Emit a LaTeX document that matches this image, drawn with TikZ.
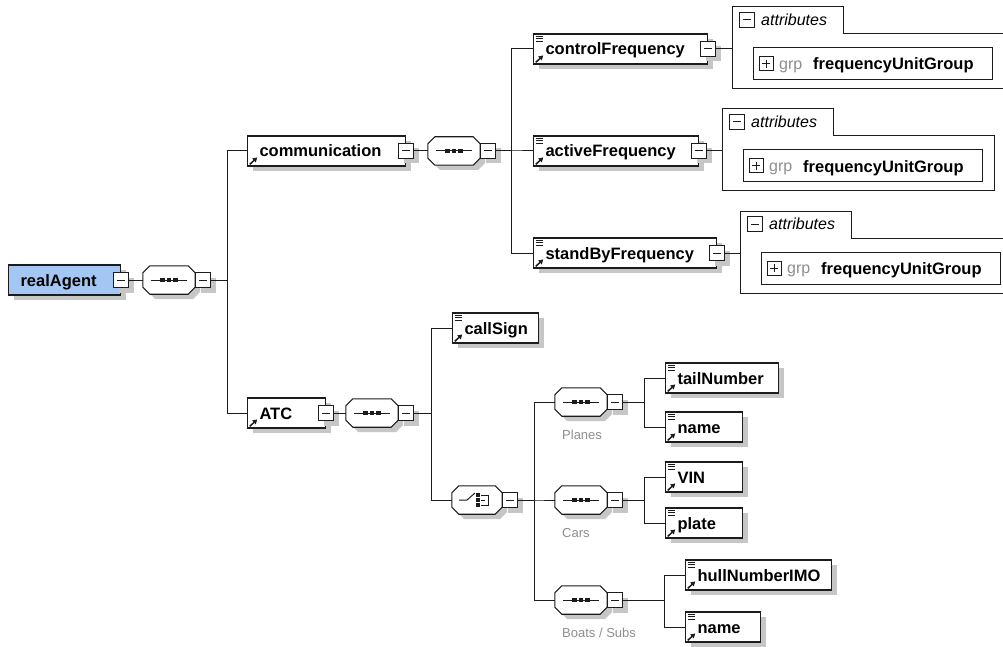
\documentclass[tikz,border=0pt]{standalone}
\usepackage{fontspec}
\setmainfont{Liberation Sans}
\usepackage{tikz}
\usetikzlibrary{arrows.meta,positioning,calc,shadows}
\definecolor{xsblue}{HTML}{A3C6F2}
\definecolor{xsline}{HTML}{1C1C1C}
\definecolor{xsshade}{HTML}{C6C6C6}
\definecolor{xsgrey}{HTML}{8E8E8E}
\newcommand{\xsfont}{\fontsize{16.5}{18}\selectfont\bfseries}
\newcommand{\xsarrow}{\draw[line width=1.5pt, -{Triangle[length=4.5pt,width=5pt]}]
  ([shift={(2.2pt,1.6pt)}]path picture bounding box.south west) -- ++(7.5pt,7pt);}
\newcommand{\xsbars}{\foreach \k in {2.3,4.8,7.3}
  \draw[line width=1.1pt] ([shift={(2.3pt,-\k pt)}]path picture bounding box.north west) -- ++(7pt,0pt);}
% octagon of a compositor node
\newcommand{\xsoct}[1]{%
  \filldraw[fill=white, draw=xsline, line width=1.1pt] ([xshift=7pt]#1.north west) -- ([xshift=-7pt]#1.north east)
  -- ([yshift=-7pt]#1.north east) -- ([yshift=7pt]#1.south east) -- ([xshift=-7pt]#1.south east)
  -- ([xshift=7pt]#1.south west) -- ([yshift=7pt]#1.south west) -- ([yshift=-7pt]#1.north west) -- cycle;}
\newcommand{\xsdots}[1]{%
  \draw[xsline, line width=1pt] ([xshift=-18pt]#1.center) -- ([xshift=18pt]#1.center);
  \foreach \k in {-6.5,0,6.5}
    \fill[xsline] ([xshift=\k pt]#1.center) ++(-2.4pt,-2.4pt) rectangle ++(4.8pt,4.8pt);}
\newcommand{\xsswitch}[1]{%
  \draw[xsline, line width=1pt] ([xshift=-18pt]#1.center) -- ++(8pt,0pt) -- ++(8pt,7pt);
  \foreach \k in {-5,0,5}
    \fill[xsline] ([shift={(-1pt,\k pt)}]#1.center) ++(0pt,-1.8pt) rectangle ++(3.6pt,3.6pt);
  \draw[xsline, line width=1pt] ([shift={(4pt,5pt)}]#1.center) -- ++(7pt,0pt) -- ++(0pt,-10pt) -- ++(-7pt,0pt)
    ([shift={(4pt,0pt)}]#1.center) -- ++(4pt,0pt);}
\tikzset{
  xsshadow/.style={drop shadow={shadow xshift=5pt, shadow yshift=-5pt, opacity=1, fill=xsshade}},
  xselem/.style={draw=xsline, fill=white, line width=1.1pt, anchor=west, minimum height=30pt,
    inner xsep=12pt, inner ysep=0pt, text width=#1, align=left, text height=12pt, text depth=0pt,
    font=\xsfont, xsshadow},
  xsroot/.style={xselem=#1, fill=xsblue},
  xsref/.style={path picture={\xsarrow}},
  xslist/.style={path picture={\xsarrow\xsbars}},
  xstoggle/.style={draw=xsline, fill=white, line width=1pt, minimum size=15pt, inner sep=0pt},
  xsminus/.style={xstoggle, xsshadow, path picture={\draw[line width=1pt]
    ([xshift=-4pt]path picture bounding box.center) -- ([xshift=4pt]path picture bounding box.center);}},
  xstabminus/.style={xstoggle, path picture={\draw[line width=1pt]
    ([xshift=-4pt]path picture bounding box.center) -- ([xshift=4pt]path picture bounding box.center);}},
  xsplus/.style={xstoggle, minimum size=14pt, path picture={\draw[line width=1pt]
    ([xshift=-4pt]path picture bounding box.center) -- ([xshift=4pt]path picture bounding box.center)
    ([yshift=-4pt]path picture bounding box.center) -- ([yshift=4pt]path picture bounding box.center);}},
  xsseq/.style={minimum width=52pt, minimum height=28pt, inner sep=0pt},
  xschoice/.style={xsseq, minimum width=50pt},
  xsminusat/.style={xsminus, anchor=west},
  xsconn/.style={draw=xsline, line width=1pt},
  xsattr/.style={draw=xsline, line width=1pt},
  xsgroup/.style={draw=xsline, line width=1pt, anchor=west, minimum width=239pt, minimum height=32pt, inner sep=0pt},
  xsitalic/.style={anchor=west, inner sep=0pt, font=\fontsize{16}{18}\selectfont\itshape, text height=11pt, text depth=0pt},
  xskind/.style={anchor=west, inner sep=0pt, font=\fontsize{16}{18}\selectfont, text=xsgrey, text height=11pt, text depth=0pt},
  xsname/.style={anchor=west, inner sep=0pt, font=\xsfont, text height=12pt, text depth=0pt},
  xscap/.style={anchor=west, inner sep=0pt, font=\fontsize{13}{14}\selectfont, text=xsgrey}
}

\begin{document}
\begin{tikzpicture}[x=1pt,y=-1pt]
  \path[use as bounding box, fill=white] (0,0) rectangle (1003,647);

  % shadows under the compositors
  \foreach \cx/\cy/\w in {169/280/52, 454/151/52, 372/413/52, 477/500/50, 581/402/52, 581/500/52, 581/600/52} {
    \fill[xsshade] (\cx-\w/2+12,\cy-9) -- (\cx+\w/2-2,\cy-9) -- (\cx+\w/2+5,\cy-2) -- (\cx+\w/2+5,\cy+12)
      -- (\cx+\w/2-2,\cy+19) -- (\cx-\w/2+12,\cy+19) -- (\cx-\w/2+5,\cy+12) -- (\cx-\w/2+5,\cy-2) -- cycle;
  }

  % root and first sequence
  \node[xsroot=88pt] (ra) at (8,280) {realAgent};
  \node[xsminus] (ra-m) at (ra.east) {};
  \node[xsseq] (s1) at (169,280) {};
  \xsoct{s1}\xsdots{s1}
  \node[xsminusat] (s1-m) at (s1.east) {};

  % communication branch
  \node[xselem=134pt, xsref] (comm) at (247,151) {communication};
  \node[xsminus] (comm-m) at (comm.east) {};
  \node[xsseq] (s2) at (454,151) {};
  \xsoct{s2}\xsdots{s2}
  \node[xsminusat] (s2-m) at (s2.east) {};
  \node[xselem=150pt, xslist] (cf) at (533,49) {controlFrequency};
  \node[xsminus] (cf-m) at (cf.east) {};
  \node[xselem=141pt, xslist] (af) at (533,151) {activeFrequency};
  \node[xsminus] (af-m) at (af.east) {};
  \node[xselem=159pt, xslist] (sf) at (533,253) {standByFrequency};
  \node[xsminus] (sf-m) at (sf.east) {};

  % attribute groups
  \foreach \n/\L/\y in {cf/732/49, af/722/151, sf/740/253} {
    \draw[xsattr] (\L,\y-42) -- (\L+111,\y-42) -- (\L+111,\y-15) -- (\L+272,\y-15)
      -- (\L+272,\y+40) -- (\L,\y+40) -- cycle;
    \coordinate (\n-in) at (\L,\y);
    \node[xstabminus] (\n-tog) at (\L+15,\y-29) {};
    \node[xsitalic] (\n-att) at (\L+29,\y-29) {attributes};
    \node[xsgroup] (\n-grp) at (\L+21,\y+15) {};
    \node[xsplus] (\n-plus) at (\L+34,\y+15) {};
    \node[xskind] (\n-kind) at (\L+47,\y+15) {grp};
    \node[xsname] (\n-gname) at (\L+81,\y+15) {frequencyUnitGroup};
    \draw[xsconn] (\n-m.east) -- (\n-in);
  }

  % ATC branch
  \node[xselem=54pt, xsref] (atc) at (247,413) {ATC};
  \node[xsminus] (atc-m) at (atc.east) {};
  \node[xsseq] (s3) at (372,413) {};
  \xsoct{s3}\xsdots{s3}
  \node[xsminusat] (s3-m) at (s3.east) {};
  \node[xselem=62pt, xslist] (cs) at (452,328) {callSign};
  \node[xschoice] (ch) at (477,500) {};
  \xsoct{ch}\xsswitch{ch}
  \node[xsminusat] (ch-m) at (ch.east) {};

  \foreach \c/\y/\lab in {sp/402/Planes, sc/500/Cars, sb/600/{Boats / Subs}} {
    \node[xsseq] (\c) at (581,\y) {};
    \xsoct{\c}\xsdots{\c}
    \node[xsminusat] (\c-m) at (\c.east) {};
    \node[xscap] (\c-cap) at (562,\y+33) {\lab};
  }

  \node[xselem=89pt, xslist] (tn) at (665,378) {tailNumber};
  \node[xselem=53pt, xslist] (pn) at (665,427) {name};
  \node[xselem=53pt, xslist] (vin) at (665,477) {VIN};
  \node[xselem=53pt, xslist] (pl) at (665,523) {plate};
  \node[xselem=122pt, xslist] (hn) at (685,575) {hullNumberIMO};
  \node[xselem=51pt, xslist] (bn) at (685,627) {name};

  % connectors
  \draw[xsconn] (ra-m.east) -- (s1.west);
  \foreach \c in {comm,atc} \draw[xsconn] (s1-m.east) -- ++(16,0) |- (\c.west);
  \draw[xsconn] (comm-m.east) -- (s2.west);
  \foreach \c in {cf,af,sf} \draw[xsconn] (s2-m.east) -- ++(15,0) |- (\c.west);
  \draw[xsconn] (atc-m.east) -- (s3.west);
  \foreach \c in {cs,ch} \draw[xsconn] (s3-m.east) -- ++(17,0) |- (\c.west);
  \foreach \c in {sp,sc,sb} \draw[xsconn] (ch-m.east) -- ++(16,0) |- (\c.west);
  \foreach \c in {tn,pn} \draw[xsconn] (sp-m.east) -- ++(21,0) |- (\c.west);
  \foreach \c in {vin,pl} \draw[xsconn] (sc-m.east) -- ++(21,0) |- (\c.west);
  \foreach \c in {hn,bn} \draw[xsconn] (sb-m.east) -- ++(41,0) |- (\c.west);
\end{tikzpicture}
\end{document}
